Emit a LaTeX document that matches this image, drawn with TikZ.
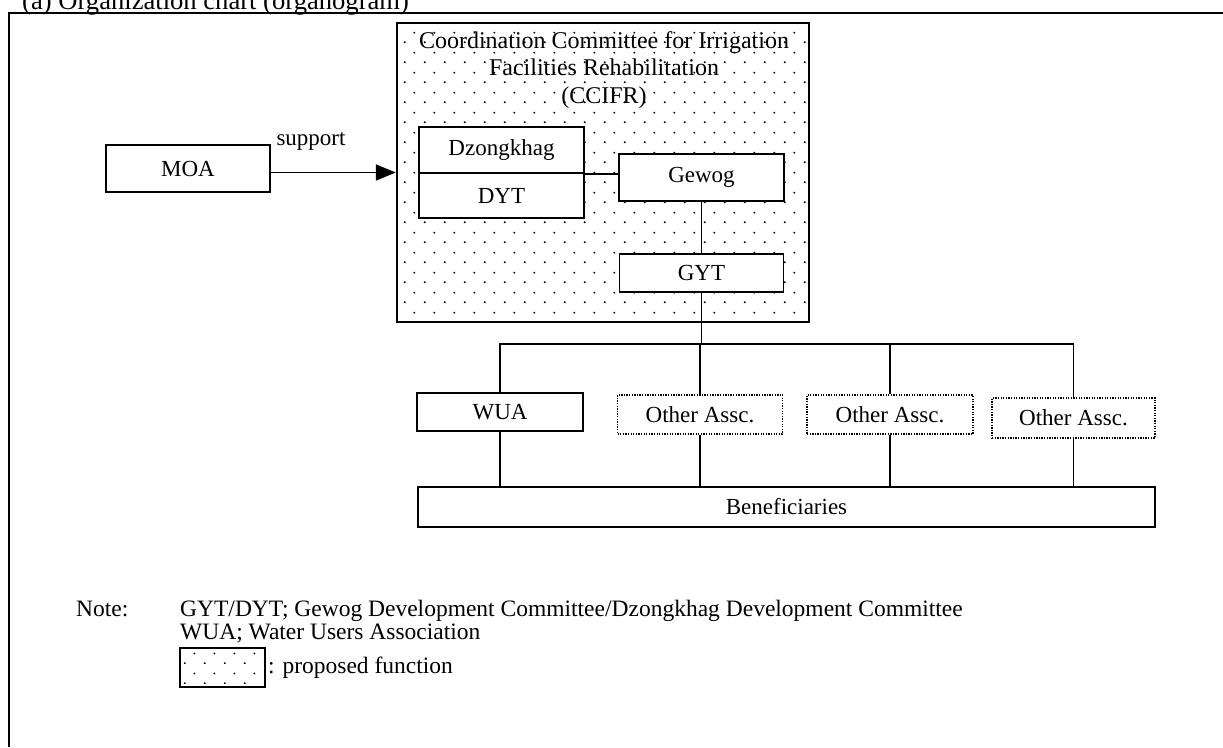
\documentclass[tikz,border=0pt]{standalone}
\usepackage{fontspec}
\setmainfont{Liberation Serif}
\usetikzlibrary{arrows.meta,patterns.meta}

\tikzdeclarepattern{
  name=propdots,
  type=colored,
  bounding box={(0pt,0pt) and (20pt,20pt)},
  tile size={(20pt,20pt)},
  code={\fill[black] (5pt,5pt) circle[radius=1.1pt]; \fill[black] (15pt,15pt) circle[radius=1.1pt];}
}

\begin{document}
\begin{tikzpicture}[x=1pt,y=-1pt,
  every node/.style={font=\fontsize{23}{27.5}\selectfont, inner sep=0pt},
  box/.style={draw, fill=white, line width=1.8pt},
  dotbox/.style={draw, fill=white, line width=1.2pt, dash pattern=on 1.3pt off 1.3pt},
  proposed/.style={draw, line width=2.4pt, pattern=propdots},
  conn/.style={line width=1.8pt},
  notetext/.style={font=\fontsize{23.5}{27}\selectfont, anchor=base west}]
\useasboundingbox (0,0) rectangle (1223,747);

% frame
\coordinate (fbl) at (9,747);
\coordinate (ftl) at (9,12.5);
\coordinate (ftr) at (1223,12.5);
\draw[line width=2pt] (fbl) -- (ftl) -- (ftr);
\node[anchor=base west, font=\fontsize{26.6}{30}\selectfont] (title) at (22,9) {(a) Organization chart (organogram)};

% MOA
\node[box, minimum width=164pt, minimum height=47pt] (moa) at (188,168.5) {MOA};
\node (supportlbl) at (311,141) {support};

% CCIFR
\node[proposed, minimum width=412pt, minimum height=299pt] (ccifr) at (603,172.5) {};
\node[align=center, font=\fontsize{24}{27.5}\selectfont] (ccifrtitle) at (604,70) {Coordination Committee for Irrigation\\Facilities Rehabilitation\\(CCIFR)};

\node[box, minimum width=165pt, minimum height=46pt] (dz) at (501.5,150) {Dzongkhag};
\node[box, minimum width=165pt, minimum height=45pt] (dyt) at (501.5,195.5) {DYT};
\node[box, minimum width=165pt, minimum height=47pt] (gewog) at (701.5,177.5) {Gewog};
\node[box, minimum width=164pt, minimum height=38pt] (gyt) at (701.5,273) {GYT};

\draw[conn, -{Triangle[length=20pt,width=16pt]}] (moa.east |- ccifr.west) -- (ccifr.west);
\draw[conn] (dz.south east) -- (dz.south east -| gewog.west);
\draw[conn] (gewog.south) -- (gyt.north);

% associations
\node[box, minimum width=166pt, minimum height=38pt] (wua) at (500,412) {WUA};
\node[dotbox, minimum width=165pt, minimum height=39pt] (oa1) at (700,414.5) {Other Assc.};
\node[dotbox, minimum width=166pt, minimum height=39pt] (oa2) at (890,414.5) {Other Assc.};
\node[dotbox, minimum width=163pt, minimum height=40pt] (oa3) at (1073.5,418) {Other Assc.};
\node[box, minimum width=737pt, minimum height=40pt] (ben) at (786.5,507) {Beneficiaries};

\coordinate (bus) at (700,344);
\draw[conn] (wua.north) -- (wua.north |- bus) -- (oa3.north |- bus) -- (oa3.north);
\draw[conn] (gyt.south) -- (gyt.south |- bus);
\draw[conn] (oa1.north) -- (oa1.north |- bus);
\draw[conn] (oa2.north) -- (oa2.north |- bus);
\draw[conn] (wua.south) -- (wua.south |- ben.north);
\draw[conn] (oa1.south) -- (oa1.south |- ben.north);
\draw[conn] (oa2.south) -- (oa2.south |- ben.north);
\draw[conn] (oa3.south) -- (oa3.south |- ben.north);

% notes
\node[notetext] (notelbl) at (76,616) {Note:};
\node[notetext] (note1) at (180,616) {GYT/DYT; Gewog Development Committee/Dzongkhag Development Committee};
\node[notetext] (note2) at (180,639) {WUA; Water Users Association};
\node[proposed, minimum width=85pt, minimum height=39pt] (legendbox) at (222.5,667.5) {};
\node[notetext] (legendtxt) at (268,673) {: proposed function};
\end{tikzpicture}
\end{document}
